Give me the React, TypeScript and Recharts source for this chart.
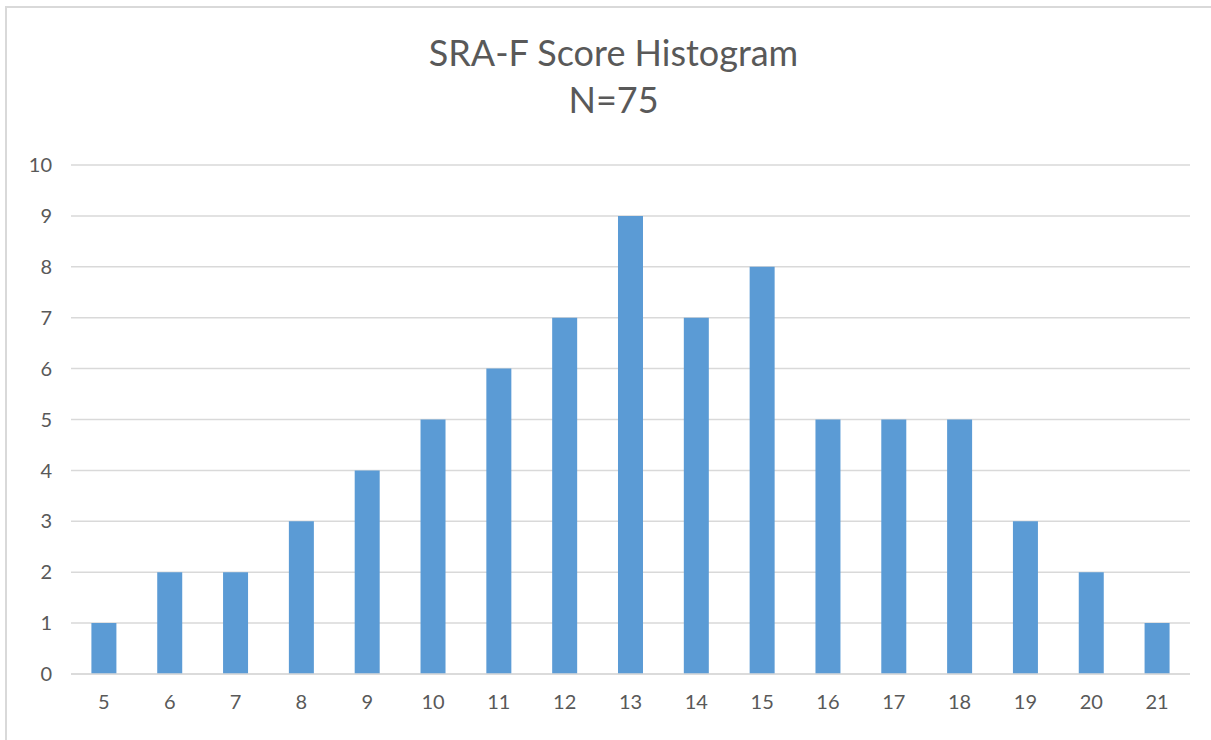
import { Bar, BarChart, CartesianGrid, XAxis, YAxis } from "recharts";

// Excel-style palette
const BAR = "#5b9bd5";
const GRID = "#d9d9d9";
const TEXT = "#595959";
const FONT = "Lato, 'Open Sans', sans-serif";

const scores = ["5", "6", "7", "8", "9", "10", "11", "12", "13", "14", "15", "16", "17", "18", "19", "20", "21"];
const counts = [1, 2, 2, 3, 4, 5, 6, 7, 9, 7, 8, 5, 5, 5, 3, 2, 1];
const yTicks = [0, 1, 2, 3, 4, 5, 6, 7, 8, 9, 10];

const data = scores.map((score, i) => ({ score, count: counts[i] }));

export default function App() {
  return (
    <div
      style={{
        position: "absolute",
        left: 0,
        top: 0,
        width: 1211,
        height: 740,
        background: "#fff",
        fontFamily: FONT,
        overflow: "hidden",
      }}
    >
      <div
        style={{
          position: "absolute",
          left: 5,
          top: 6,
          right: -4,
          bottom: -4,
          borderTop: "2px solid #d9d9d9",
          borderLeft: "2px solid #d9d9d9",
        }}
      />
      <div
        style={{
          position: "absolute",
          left: 0,
          width: 1227,
          top: 29,
          textAlign: "center",
          color: TEXT,
          fontSize: 36,
          lineHeight: "47px",
        }}
      >
        <div>SRA-F Score Histogram</div>
        <div>N=75</div>
      </div>
      <div style={{ position: "absolute", left: 0, top: 0 }}>
        <BarChart
          width={1211}
          height={740}
          data={data}
          margin={{ top: 165, right: 21, bottom: 0, left: 0 }}
          barCategoryGap="31%"
        >
          <CartesianGrid vertical={false} stroke={GRID} strokeWidth={1.5} />
          <XAxis
            dataKey="score"
            height={66}
            tickLine={false}
            tickSize={0}
            tickMargin={21}
            axisLine={{ stroke: GRID, strokeWidth: 1.5 }}
            tick={{ fontSize: 20, fill: TEXT, fontFamily: FONT }}
          />
          <YAxis
            width={71}
            domain={[0, 10]}
            ticks={yTicks}
            interval={0}
            axisLine={false}
            tickLine={false}
            tickSize={0}
            tickMargin={19}
            tick={{ fontSize: 20, fill: TEXT, fontFamily: FONT }}
          />
          <Bar dataKey="count" fill={BAR} isAnimationActive={false} />
        </BarChart>
      </div>
    </div>
  );
}
